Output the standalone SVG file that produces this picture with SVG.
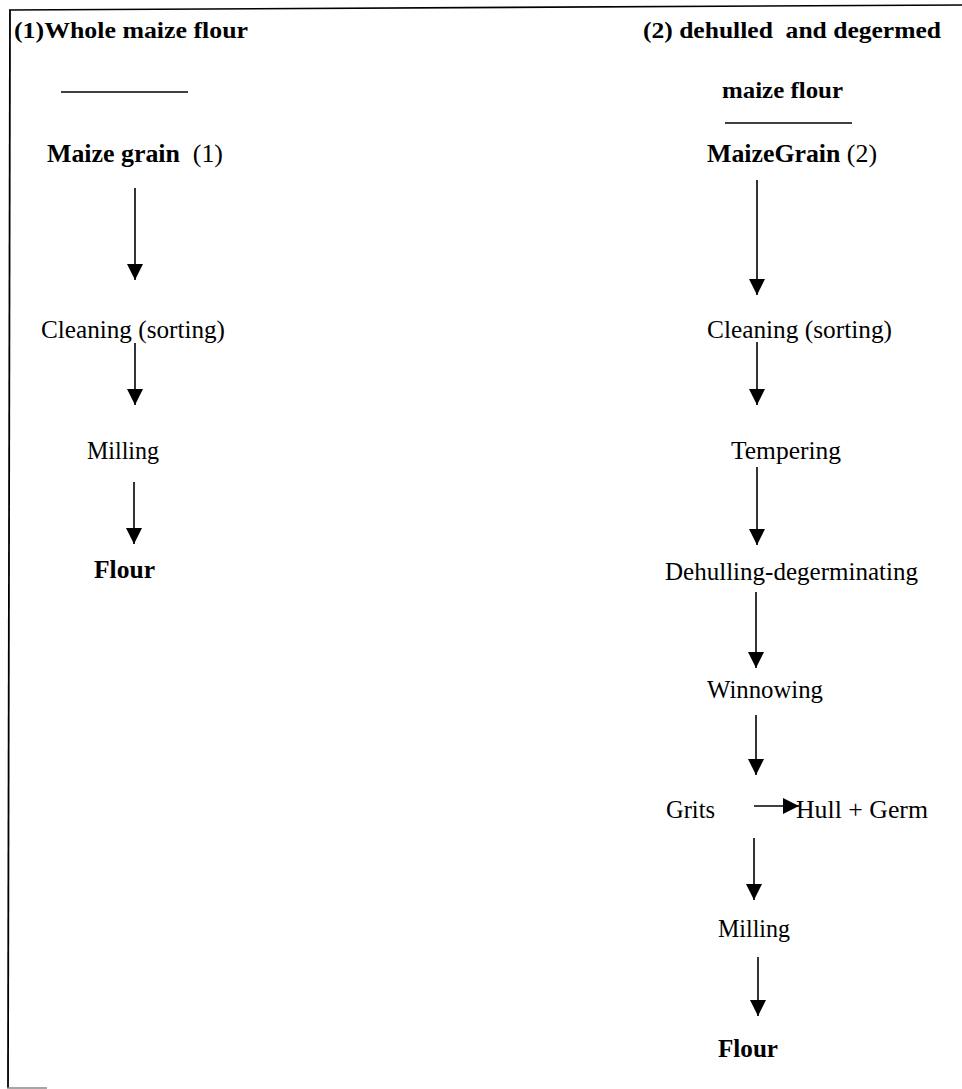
<svg xmlns="http://www.w3.org/2000/svg" width="962" height="1089" viewBox="0 0 962 1089">
<style>
text{font-family:"Liberation Serif","Times New Roman","DejaVu Serif",serif;font-size:25px;fill:#000;white-space:pre}
.b{font-weight:bold}
.t{font-size:24px;font-weight:bold}
.r{font-weight:normal}
.ln{stroke:#000;stroke-width:1.5;fill:none}
.ar{stroke:#000;stroke-width:1.6;fill:none;marker-end:url(#ah)}
</style>
<defs>
<marker id="ah" markerUnits="userSpaceOnUse" markerWidth="16" markerHeight="16" refX="15" refY="7.5" orient="auto" viewBox="0 0 15 15">
<path d="M0,0 L15,7.5 L0,15 z" fill="#000"/>
</marker>
</defs>
<g id="frame">
<line x1="9" y1="10" x2="962" y2="5" stroke="#000" stroke-width="1.6"/>
<line x1="10" y1="10" x2="8" y2="1088" stroke="#000" stroke-width="1.8"/>
<line x1="7" y1="1088" x2="47" y2="1088" stroke="#888" stroke-width="1.5"/>
</g>
<g id="title1"><text class="t" x="14" y="38" textLength="234" lengthAdjust="spacingAndGlyphs">(1)Whole maize flour</text>
<line class="ln" x1="61" y1="92" x2="188" y2="92"/></g>
<g id="title2"><text class="t" x="643" y="38" textLength="298" lengthAdjust="spacingAndGlyphs">(2) dehulled  and degermed</text>
<text class="t" x="722" y="98" textLength="121" lengthAdjust="spacingAndGlyphs">maize flour</text>
<line class="ln" x1="725" y1="123" x2="852" y2="123"/></g>
<g id="n-grain1"><text x="47" y="162" textLength="176" lengthAdjust="spacingAndGlyphs"><tspan class="b">Maize grain</tspan><tspan class="r">  (1)</tspan></text></g>
<g id="n-clean1"><text x="41" y="338" textLength="184" lengthAdjust="spacingAndGlyphs">Cleaning (sorting)</text></g>
<g id="n-mill1"><text x="87" y="459" textLength="72" lengthAdjust="spacingAndGlyphs">Milling</text></g>
<g id="n-flour1"><text class="b" x="94" y="578" textLength="61" lengthAdjust="spacingAndGlyphs">Flour</text></g>
<g id="n-grain2"><text x="707" y="162" textLength="170" lengthAdjust="spacingAndGlyphs"><tspan class="b">MaizeGrain</tspan><tspan class="r"> (2)</tspan></text></g>
<g id="n-clean2"><text x="707" y="338" textLength="185" lengthAdjust="spacingAndGlyphs">Cleaning (sorting)</text></g>
<g id="n-temper"><text x="731" y="459" textLength="110" lengthAdjust="spacingAndGlyphs">Tempering</text></g>
<g id="n-dehull"><text x="665" y="580" textLength="253" lengthAdjust="spacingAndGlyphs">Dehulling-degerminating</text></g>
<g id="n-winnow"><text x="707" y="698" textLength="116" lengthAdjust="spacingAndGlyphs">Winnowing</text></g>
<g id="n-grits"><text x="666" y="818" textLength="49" lengthAdjust="spacingAndGlyphs">Grits</text></g>
<g id="n-hull"><text x="796" y="818" textLength="132" lengthAdjust="spacingAndGlyphs">Hull + Germ</text></g>
<g id="n-mill2"><text x="718" y="937" textLength="72" lengthAdjust="spacingAndGlyphs">Milling</text></g>
<g id="n-flour2"><text class="b" x="718" y="1057" textLength="60" lengthAdjust="spacingAndGlyphs">Flour</text></g>
<g id="connectors">
<line class="ar" x1="135" y1="188" x2="135" y2="280"/>
<line class="ar" x1="135" y1="343" x2="135" y2="405"/>
<line class="ar" x1="134" y1="482" x2="134" y2="544"/>
<line class="ar" x1="757" y1="180" x2="757" y2="295"/>
<line class="ar" x1="757" y1="342" x2="757" y2="405"/>
<line class="ar" x1="757" y1="467" x2="757" y2="545"/>
<line class="ar" x1="756" y1="592" x2="756" y2="668"/>
<line class="ar" x1="756" y1="715" x2="756" y2="775"/>
<line class="ar" x1="754" y1="806" x2="799" y2="806"/>
<line class="ar" x1="754" y1="838" x2="754" y2="900"/>
<line class="ar" x1="758" y1="957" x2="758" y2="1016"/>
</g>
</svg>
